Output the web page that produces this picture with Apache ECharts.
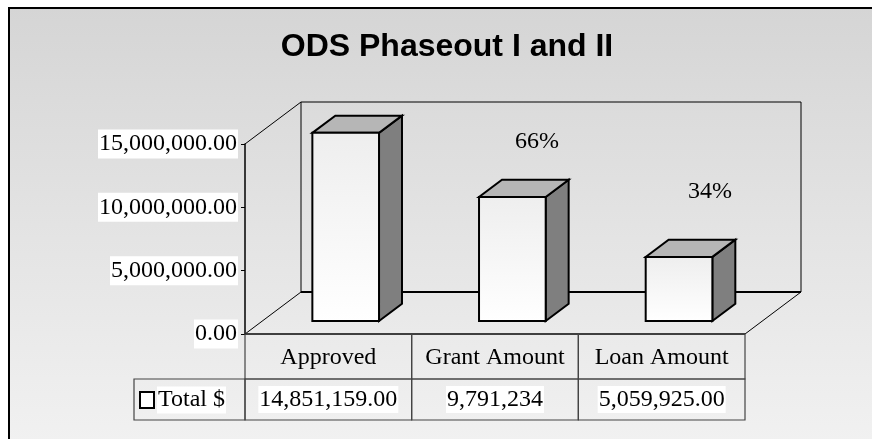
<!DOCTYPE html>
<html>
<head>
<meta charset="utf-8">
<script src="https://cdn.jsdelivr.net/npm/echarts@6/dist/echarts.min.js"></script>
<style>
  html, body { margin: 0; background: #fff; }
  #chart { width: 872px; height: 439px; }
</style>
</head>
<body>
<div id="chart"></div>
<script>
const categories = ['Approved', 'Grant Amount', 'Loan Amount'];
const totals = [14851159, 9791234, 5059925];
const totalLabels = ['14,851,159.00', '9,791,234', '5,059,925.00'];
const shareLabels = ['66%', '34%'];
const seriesName = 'Total $';

// 3d depth of the plot box
const DX = 56, DY = -42;
const serif = '"Liberation Serif", "Times New Roman", serif';
const fs = 24;

const fmt = v => {
  const s = String(Math.round(v)).replace(/\B(?=(\d{3})+(?!\d))/g, ',');
  return s + '.00';
};

const renderFrame = (params, api) => {
  const c = params.coordSys;
  const x = c.x, y = c.y, w = c.width, h = c.height;
  const line = (x1, y1, x2, y2, lw) => ({
    type: 'line',
    shape: { x1, y1, x2, y2 },
    style: { stroke: '#000', lineWidth: lw || 1 }
  });
  return {
    type: 'group',
    children: [
      { type: 'rect', shape: { x: x + DX, y: y + DY, width: w, height: h }, style: { fill: 'none', stroke: '#000', lineWidth: 1 } },
      line(x, y, x + DX, y + DY),
      line(x, y + h, x + DX, y + h + DY),
      line(x + w, y + h, x + w + DX, y + h + DY),
      line(x + DX, y + h + DY, x + w + DX, y + h + DY, 2),
      line(x, y + h, x + w, y + h, 1.5)
    ]
  };
};

const renderBar = (params, api) => {
  const i = api.value(0);
  const base = api.coord([i, 0]);
  const top = api.coord([i, api.value(1)]);
  const band = api.size([1, 0])[0];
  const w = band * 0.4;
  const sx = DX * 0.31, sy = DY * 0.31;
  const dx = DX * 0.41, dy = DY * 0.41;
  const x0 = base[0] - w / 2 + sx, x1 = x0 + w;
  const yb = base[1] + sy, yt = top[1] + sy;
  const edge = { stroke: '#000', lineWidth: 2, lineJoin: 'miter' };
  return {
    type: 'group',
    children: [
      { type: 'polygon', shape: { points: [[x1, yb], [x1 + dx, yb + dy], [x1 + dx, yt + dy], [x1, yt]] }, style: Object.assign({ fill: '#7f7f7f' }, edge) },
      { type: 'polygon', shape: { points: [[x0, yt], [x1, yt], [x1 + dx, yt + dy], [x0 + dx, yt + dy]] }, style: Object.assign({ fill: '#b6b6b6' }, edge) },
      {
        type: 'rect',
        shape: { x: x0, y: yt, width: w, height: yb - yt },
        style: Object.assign({
          fill: { type: 'linear', x: 0, y: 0, x2: 0, y2: 1, colorStops: [{ offset: 0, color: '#eeeeee' }, { offset: 1, color: '#ffffff' }] }
        }, edge)
      }
    ]
  };
};

const renderTable = (params, api) => {
  const i = api.value(0);
  const base = api.coord([i, 0]);
  const band = api.size([1, 0])[0];
  const left = base[0] - band / 2;
  const r1 = 45, r2 = 41;
  const cell = { fill: 'none', stroke: '#444', lineWidth: 1.2 };
  return {
    type: 'group',
    children: [
      { type: 'rect', shape: { x: left, y: base[1], width: band, height: r1 }, style: cell },
      { type: 'rect', shape: { x: left, y: base[1] + r1, width: band, height: r2 }, style: cell },
      {
        type: 'text',
        style: { text: categories[i], x: base[0], y: base[1] + r1 / 2 + 1, align: 'center', verticalAlign: 'middle', font: fs + 'px ' + serif, fill: '#000' }
      },
      {
        type: 'text',
        style: { text: totalLabels[i], x: base[0], y: base[1] + r1 + r2 / 2, align: 'center', verticalAlign: 'middle', font: fs + 'px ' + serif, fill: '#000', backgroundColor: '#fff', padding: [2, 1, 1, 1] }
      }
    ]
  };
};

const chart = echarts.init(document.getElementById('chart'));

const option = {
  backgroundColor: '#fff',
  animation: false,
  title: {
    text: 'ODS Phaseout I and II',
    left: 442,
    top: 26,
    textAlign: 'center',
    textStyle: { fontFamily: '"Liberation Sans", Arial, sans-serif', fontWeight: 'bold', fontSize: 32, color: '#000' }
  },
  graphic: [
    {
      type: 'rect', z: -10, silent: true,
      shape: { x: 9, y: 8, width: 900, height: 470 },
      style: {
        fill: { type: 'linear', x: 0, y: 0, x2: 0, y2: 1, colorStops: [{ offset: 0, color: '#d5d5d5' }, { offset: 0.92, color: '#f1f1f1' }, { offset: 1, color: '#f3f3f3' }] },
        stroke: '#000', lineWidth: 2
      }
    },
    {
      type: 'group', x: 134, y: 379,
      children: [
        { type: 'rect', shape: { x: 0, y: 0, width: 111, height: 41 }, style: { fill: 'none', stroke: '#444', lineWidth: 1.2 } },
        { type: 'rect', shape: { x: 6, y: 13, width: 14, height: 16 }, style: { fill: '#fff', stroke: '#000', lineWidth: 2 } },
        { type: 'text', style: { text: seriesName, x: 23, y: 21, verticalAlign: 'middle', font: fs + 'px ' + serif, fill: '#000', backgroundColor: '#fff', padding: [2, 1, 1, 1] } }
      ]
    },
    { type: 'text', x: 537, y: 142, style: { text: shareLabels[0], align: 'center', verticalAlign: 'middle', font: fs + 'px ' + serif, fill: '#000' } },
    { type: 'text', x: 710, y: 192, style: { text: shareLabels[1], align: 'center', verticalAlign: 'middle', font: fs + 'px ' + serif, fill: '#000' } }
  ],
  grid: { left: 245, right: 127, top: 144, bottom: 105 },
  xAxis: {
    type: 'category',
    data: categories,
    axisLine: { show: false },
    axisTick: { show: false },
    axisLabel: { show: false },
    splitLine: { show: false }
  },
  yAxis: {
    type: 'value',
    min: 0,
    max: 15000000,
    interval: 5000000,
    axisLine: { show: true, lineStyle: { color: '#000', width: 1.5 } },
    axisTick: { show: true, length: 4, lineStyle: { color: '#000' } },
    splitLine: { show: false },
    axisLabel: {
      formatter: fmt,
      margin: 7,
      fontFamily: serif,
      fontSize: fs,
      color: '#000',
      backgroundColor: '#fff',
      padding: [3, 1, 2, 1]
    }
  },
  series: [
    { type: 'custom', name: 'frame', renderItem: renderFrame, data: [[0, 0]], clip: false, z: 1, silent: true },
    { type: 'custom', name: seriesName, renderItem: renderBar, data: totals.map((v, i) => [i, v]), clip: false, z: 3 },
    { type: 'custom', name: 'table', renderItem: renderTable, data: totals.map((v, i) => [i, v]), clip: false, z: 2, silent: true }
  ]
};

chart.setOption(option);
</script>
</body>
</html>
